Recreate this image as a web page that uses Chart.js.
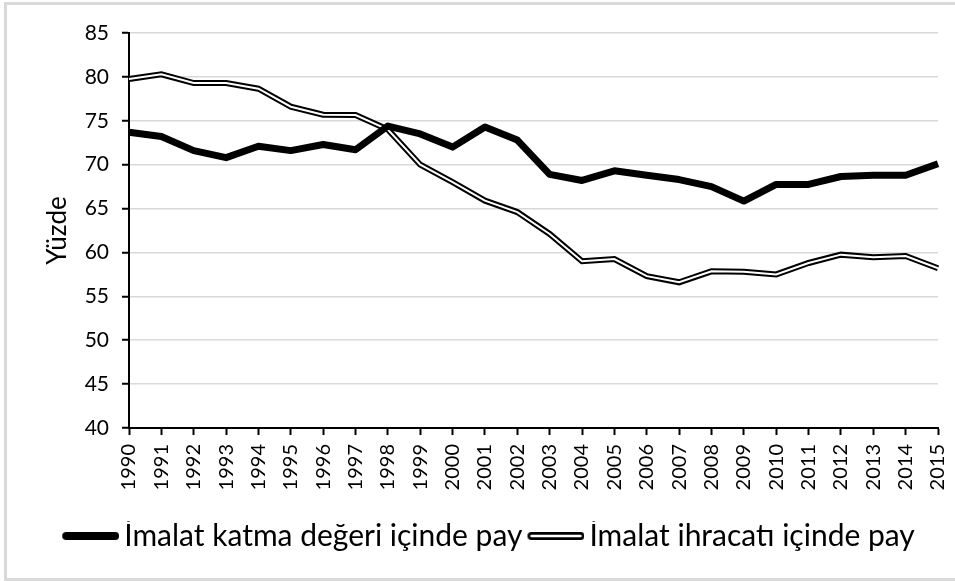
<!DOCTYPE html>
<html>
<head>
<meta charset="utf-8">
<script src="https://cdn.jsdelivr.net/npm/chart.js@4/dist/chart.umd.min.js"></script>
<style>
    body { margin: 0; background: #fff; }
    #frame {
        position: absolute; left: 4px; top: 2px; width: 960px; height: 573px;
        border: 3px solid #d9d9d9; border-right: none;
    }
    #chart { position: absolute; left: 0; top: 0; }
</style>
</head>
<body>
<div id="frame"></div>
<canvas id="chart" width="955" height="581"></canvas>
<script>
const years = ['1990', '1991', '1992', '1993', '1994', '1995', '1996', '1997', '1998', '1999',
    '2000', '2001', '2002', '2003', '2004', '2005', '2006', '2007', '2008', '2009',
    '2010', '2011', '2012', '2013', '2014', '2015'];
const katmaDegeri = [73.7, 73.2, 71.6, 70.8, 72.1, 71.6, 72.3, 71.7, 74.4, 73.5,
    72.0, 74.3, 72.8, 68.9, 68.2, 69.3, 68.8, 68.3, 67.5, 65.85,
    67.75, 67.75, 68.65, 68.8, 68.8, 70.1];
const ihracat = [79.75, 80.3, 79.3, 79.3, 78.65, 76.6, 75.7, 75.65, 74.0, 70.0,
    68.0, 65.9, 64.6, 62.1, 59.0, 59.25, 57.3, 56.6, 57.85, 57.8,
    57.5, 58.8, 59.75, 59.45, 59.6, 58.2];
const yTicks = [40, 45, 50, 55, 60, 65, 70, 75, 80, 85];
const seriesNames = ['İmalat katma değeri içinde pay', 'İmalat ihracatı içinde pay'];

const FONT = "Lato, 'Open Sans', sans-serif";

// little canvases used as legend samples; the line pokes past the box on the right
function legendSample(double) {
    const c = document.createElement('canvas');
    c.width = 72; c.height = 14;
    const g = c.getContext('2d');
    g.lineCap = 'round';
    g.strokeStyle = '#000';
    g.lineWidth = 8;
    g.beginPath(); g.moveTo(19, 7); g.lineTo(68, 7); g.stroke();
    if (double) {
        g.strokeStyle = '#fff';
        g.lineWidth = 2.5;
        g.beginPath(); g.moveTo(19, 7); g.lineTo(68, 7); g.stroke();
    }
    return c;
}
const samples = [legendSample(false), legendSample(true)];

new Chart(document.getElementById('chart'), {
    type: 'line',
    data: {
        labels: years,
        datasets: [
            {
                label: seriesNames[0],
                data: katmaDegeri,
                borderColor: '#000',
                borderWidth: 7,
                borderJoinStyle: 'round',
                pointRadius: 0,
                tension: 0
            },
            {
                label: seriesNames[1] + ' inner',
                data: ihracat,
                borderColor: '#fff',
                borderWidth: 2,
                pointRadius: 0,
                tension: 0
            },
            {
                label: seriesNames[1],
                data: ihracat,
                borderColor: '#000',
                borderWidth: 6,
                pointRadius: 0,
                tension: 0
            }
        ]
    },
    options: {
        responsive: false,
        animation: false,
        layout: { padding: { left: 34, right: 17, top: 33, bottom: 20 } },
        plugins: {
            tooltip: { enabled: false },
            legend: {
                position: 'bottom',
                align: 'center',
                labels: {
                    usePointStyle: true,
                    pointStyleWidth: 52,
                    padding: 0,
                    color: '#000',
                    font: { family: FONT, size: 30 },
                    generateLabels: () => seriesNames.map((name, i) => ({
                        text: name,
                        pointStyle: samples[i],
                        fillStyle: '#000',
                        strokeStyle: '#000',
                        lineWidth: 0,
                        hidden: false,
                        datasetIndex: i === 0 ? 0 : 2
                    }))
                }
            }
        },
        scales: {
            x: {
                afterFit: (scale) => {
                    scale.height = 93;
                    // rotated labels would otherwise push the plot edge inwards
                    scale.paddingLeft = 0;
                    scale.paddingRight = 0;
                },
                grid: { display: true, drawOnChartArea: false, tickLength: 7, tickColor: '#000', tickWidth: 2 },
                border: { color: '#000', width: 2 },
                ticks: {
                    minRotation: 90, maxRotation: 90, autoSkip: false, padding: 9,
                    color: '#000', font: { family: FONT, size: 20 }
                }
            },
            y: {
                min: 40,
                max: 85,
                afterFit: (scale) => { scale.width = 95; },
                afterBuildTicks: (scale) => { scale.ticks = yTicks.map(v => ({ value: v })); },
                grid: { color: '#d9d9d9', lineWidth: 1.5, tickLength: 7, tickColor: '#000', tickWidth: 2 },
                border: { color: '#000', width: 2 },
                ticks: { padding: 13, color: '#000', font: { family: FONT, size: 21 } },
                title: {
                    display: true, text: 'Yüzde', color: '#000',
                    font: { family: FONT, size: 26 }, padding: { top: 8, bottom: 0 }
                }
            }
        }
    }
});
</script>
</body>
</html>
